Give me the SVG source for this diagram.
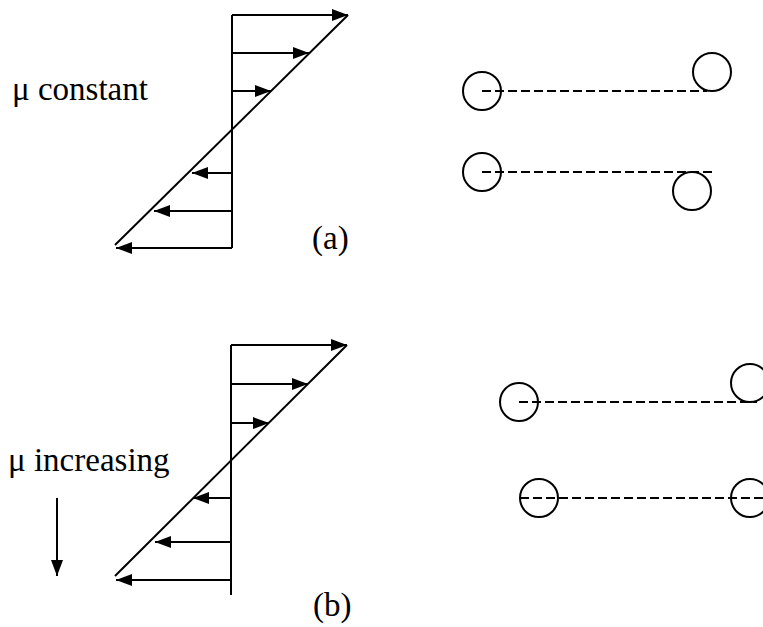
<svg xmlns="http://www.w3.org/2000/svg" width="763" height="627" viewBox="0 0 763 627">
<style>
.ln{stroke:#000;stroke-width:2;fill:none}
.ar{stroke:#000;stroke-width:2;fill:none;marker-end:url(#ah)}
.dash{stroke:#000;stroke-width:2.2;stroke-dasharray:9 4;fill:none}
.c{stroke:#000;stroke-width:2;fill:none}
.t{font-family:"Liberation Serif","Times New Roman",serif;font-size:33px;fill:#000}
</style>
<defs>
<marker id="ah" viewBox="0 0 16 12" refX="16" refY="6" markerWidth="16" markerHeight="12" orient="auto" markerUnits="userSpaceOnUse">
<path d="M0,0 L16,6 L0,12 z" fill="#000"/>
</marker>
</defs>
<rect width="763" height="627" fill="#fff"/>
<g id="profile-a">
<line class="ln" x1="232" y1="15" x2="232" y2="248"/>
<line class="ln" x1="348" y1="15" x2="115" y2="245"/>
<line class="ar" x1="232" y1="15" x2="348" y2="15"/>
<line class="ar" x1="232" y1="53" x2="309" y2="53"/>
<line class="ar" x1="232" y1="91" x2="271" y2="91"/>
<line class="ar" x1="232" y1="173" x2="192" y2="173"/>
<line class="ar" x1="232" y1="211" x2="154" y2="211"/>
<line class="ar" x1="232" y1="248" x2="116" y2="248"/>
</g>
<g id="profile-b">
<line class="ln" x1="231" y1="345" x2="231" y2="595"/>
<line class="ln" x1="347" y1="345" x2="115" y2="576"/>
<line class="ar" x1="231" y1="345" x2="347" y2="345"/>
<line class="ar" x1="231" y1="384" x2="308" y2="384"/>
<line class="ar" x1="231" y1="423" x2="269" y2="423"/>
<line class="ar" x1="231" y1="498" x2="193" y2="498"/>
<line class="ar" x1="231" y1="542" x2="155" y2="542"/>
<line class="ar" x1="231" y1="580" x2="116" y2="580"/>
</g>
<g id="labels">
<text class="t" x="12" y="100">μ constant</text>
<text class="t" x="312" y="249">(a)</text>
<text class="t" x="8" y="471">μ increasing</text>
<text class="t" x="313" y="616">(b)</text>
<line class="ar" x1="57" y1="498" x2="57" y2="576"/>
</g>
<g id="pairs-a">
<circle class="c" cx="482" cy="91" r="19"/>
<line class="dash" x1="482" y1="91" x2="707" y2="91"/>
<circle class="c" cx="712" cy="72" r="19"/>
<circle class="c" cx="482" cy="172" r="19"/>
<line class="dash" x1="482" y1="172" x2="713" y2="172"/>
<circle class="c" cx="692" cy="191" r="19"/>
</g>
<g id="pairs-b">
<circle class="c" cx="519" cy="402" r="19"/>
<line class="dash" x1="519" y1="402" x2="757" y2="402"/>
<circle class="c" cx="750" cy="383" r="19"/>
<circle class="c" cx="539" cy="498" r="19"/>
<line class="dash" x1="520" y1="498" x2="763" y2="498"/>
<circle class="c" cx="750" cy="498" r="19"/>
</g>
</svg>
